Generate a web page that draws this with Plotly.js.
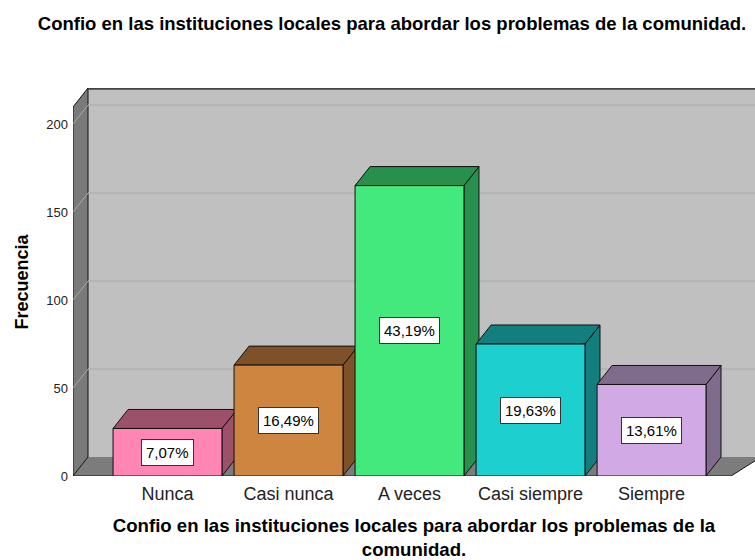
<!DOCTYPE html>
<html>
<head>
<meta charset="utf-8">
<script src="https://cdn.plot.ly/plotly-3.0.1.min.js"></script>
<style>html,body{margin:0;padding:0;background:#fff;}#chart{width:755px;height:560px;}</style>
</head>
<body>
<div id="chart"></div>
<script>
// ---- data ----
const categories = ["Nunca", "Casi nunca", "A veces", "Casi siempre", "Siempre"];
const counts = [27, 63, 165, 75, 52];
const percentLabels = ["7,07%", "16,49%", "43,19%", "19,63%", "13,61%"];
const yTickValues = [0, 50, 100, 150, 200];
const frontColors = ["#ff85b5", "#cd853f", "#43e97c", "#1dcfcf", "#d1a9e4"];
const darkColors = ["#9c5069", "#7f5129", "#26904c", "#127f7e", "#7f6b8b"];

// ---- geometry of the pseudo-3D frame (axis units) ----
const xMin = -0.781, xMax = 4.855;
const yMax = 220.45;
const dx = 0.124, dy = 10.8;   // depth offset
const halfW = 0.45;
const FONT = "Liberation Sans, Arial, sans-serif";

const xs = categories.map((c, i) => i);

const shapes = [];
// back wall
shapes.push({type: "rect", xref: "x", yref: "y", x0: xMin + dx, x1: xMax + 0.2, y0: dy, y1: yMax + 5,
  fillcolor: "#c0c0c0", line: {width: 0}, layer: "below"});
// floor
shapes.push({type: "path", xref: "x", yref: "y", layer: "below",
  path: `M ${xMin},0 L ${xMax - dx - 0.074},0 L ${xMax + 0.05},${dy} L ${xMin + dx},${dy} Z`,
  fillcolor: "#7c7c7c", line: {width: 0}});
// left wall
shapes.push({type: "path", xref: "x", yref: "y", layer: "below",
  path: `M ${xMin},0 L ${xMin + dx},${dy} L ${xMin + dx},${yMax} L ${xMin},${yMax - dy} Z`,
  fillcolor: "#7a7a7a", line: {color: "#111", width: 1}});
// gridlines (back wall + left wall)
yTickValues.filter(v => v > 0).forEach(v => {
  shapes.push({type: "line", xref: "x", yref: "y", layer: "below",
    x0: xMin + dx, x1: xMax + 0.2, y0: v + dy, y1: v + dy, line: {color: "#b2b2b2", width: 1.5}});
  shapes.push({type: "line", xref: "x", yref: "y", layer: "below",
    x0: xMin, x1: xMin + dx, y0: v, y1: v + dy, line: {color: "#a9a9a9", width: 1}});
});
// top edge of back wall
shapes.push({type: "line", xref: "x", yref: "y", layer: "below",
  x0: xMin + dx, x1: xMax + 0.2, y0: yMax - 0.4, y1: yMax - 0.4, line: {color: "#444", width: 2}});
// floor front edge
shapes.push({type: "line", xref: "x", yref: "y", layer: "below",
  x0: xMin, x1: xMax - dx - 0.074, y0: 0, y1: 0, line: {color: "#111", width: 1.2}});
// floor right edge
shapes.push({type: "line", xref: "x", yref: "y", layer: "below",
  x0: xMax - dx - 0.074, x1: xMax + 0.05, y0: 0, y1: dy, line: {color: "#111", width: 1}});

// bar side and top faces
xs.forEach((x, i) => {
  const v = counts[i];
  const L = x - halfW, R = x + halfW;
  shapes.push({type: "path", xref: "x", yref: "y", layer: "below",
    path: `M ${R},0 L ${R + dx},${dy} L ${R + dx},${v + dy} L ${R},${v} Z`,
    fillcolor: darkColors[i], line: {color: "#111", width: 1}});
  shapes.push({type: "path", xref: "x", yref: "y", layer: "below",
    path: `M ${L},${v} L ${R},${v} L ${R + dx},${v + dy} L ${L + dx},${v + dy} Z`,
    fillcolor: darkColors[i], line: {color: "#111", width: 1}});
});

const annotations = xs.map((x, i) => ({
  x: x, y: counts[i] / 2, xref: "x", yref: "y", text: percentLabels[i], showarrow: false,
  bgcolor: "#ffffff", bordercolor: "#333", borderwidth: 1, borderpad: 4,
  font: {family: FONT, size: 15, color: "#000"}
}));

const trace = {
  type: "bar", x: xs, y: counts, width: 2 * halfW,
  marker: {color: frontColors, line: {color: "#111", width: 1}},
  hoverinfo: "skip"
};

const layout = {
  width: 755, height: 560,
  margin: {l: 73, r: 0, t: 88, b: 84},
  paper_bgcolor: "#fff", plot_bgcolor: "#fff",
  showlegend: false,
  font: {family: FONT, color: "#000"},
  title: {text: "<b>Confio en las instituciones locales para abordar los problemas de la comunidad.</b>",
    font: {family: FONT, size: 18.5, color: "#000"},
    x: 392 / 755, xref: "container", xanchor: "center", y: 1 - 24 / 560, yref: "container", yanchor: "middle"},
  xaxis: {range: [xMin, xMax], tickvals: xs, ticktext: categories, showgrid: false, zeroline: false,
    showline: false, ticks: "", tickfont: {family: FONT, size: 18, color: "#222"}, ticklabelstandoff: 5,
    title: {text: "<b>Confio en las instituciones locales para abordar los problemas de la<br>comunidad.</b>",
      font: {family: FONT, size: 18.6, color: "#000"}, standoff: 18},
    fixedrange: true, automargin: false},
  yaxis: {range: [0, yMax], tickvals: yTickValues, showgrid: false, zeroline: false, showline: false,
    ticks: "", tickfont: {family: FONT, size: 13, color: "#222"}, ticklabelstandoff: 4,
    title: {text: "<b>Frecuencia</b>", font: {family: FONT, size: 18, color: "#000"}, standoff: 12},
    fixedrange: true, automargin: false},
  shapes: shapes,
  annotations: annotations
};

Plotly.newPlot("chart", [trace], layout, {displayModeBar: false, staticPlot: true});
</script>
</body>
</html>
